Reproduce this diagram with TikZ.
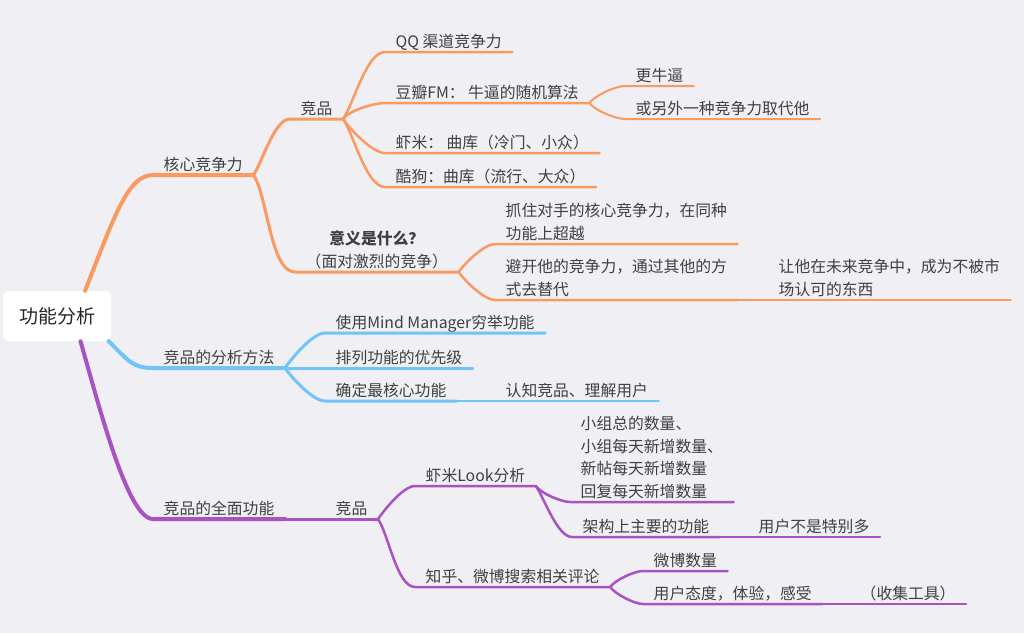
\documentclass[tikz,border=0pt]{standalone}
\usepackage{fontspec}
\setmainfont{Noto Sans CJK SC}
\definecolor{bgcol}{RGB}{239,239,244}
\definecolor{txtcol}{RGB}{64,64,64}
\definecolor{orng}{RGB}{250,154,96}
\definecolor{skyb}{RGB}{112,196,250}
\definecolor{purp}{RGB}{168,82,196}

\begin{document}
\begin{tikzpicture}[x=1pt,y=-1pt,
  topic/.style={anchor=south west, inner xsep=10.5pt, inner ysep=0pt, align=left, text=txtcol,
    font=\fontsize{15.8}{22.5}\selectfont,
    execute at end node={\vrule width 0pt height 0pt depth 4.5pt}},
  rootbox/.style={fill=white, rounded corners=6pt, minimum width=108pt, minimum height=50pt,
    text=black!85, font=\fontsize{19}{22}\selectfont},
  uplink/.style={out=55,in=180,looseness=0.6},
  downlink/.style={out=-55,in=180,looseness=0.6},
  oline/.style={color=orng, line cap=round},
  bline/.style={color=skyb, line cap=round},
  pline/.style={color=purp, line cap=round}]

\useasboundingbox (0,0) rectangle (1024,633);
\fill[bgcol] (0,0) rectangle (1024,633);

\node[rootbox] (root) at (57,316) {功能分析};

%%%%%%%%%%%%%%%%%%%%%%%%%%%%%%%%%%%%%%%%%%%%
\node[topic] (hexin) at (153,175) {核心竞争力};
\node[topic] (jp1) at (290,119) {竞品};
\node[topic] (qq) at (385,52) {QQ 渠道竞争力};
\node[topic] (douban) at (385,103) {豆瓣FM： 牛逼的随机算法};
\node[topic] (niubi) at (625,86) {更牛逼};
\node[topic] (qudai) at (625,119) {或另外一种竞争力取代他};
\node[topic] (xiami) at (385,153) {虾米： 曲库（冷门、小众）};
\node[topic] (kugou) at (385,187) {酷狗：曲库（流行、大众）};
\node[topic, align=center] (yiyi) at (295,272) {\textbf{意义是什么？}\\（面对激烈的竞争）};
\node[topic] (zhua) at (495,244) {抓住对手的核心竞争力，在同种\\功能上超越};
\node[topic] (bikai) at (495,300) {避开他的竞争力，通过其他的方\\式去替代};
\node[topic] (rang) at (768,300) {让他在未来竞争中，成为不被市\\场认可的东西};

\draw[oline, line width=4pt] (root.42) .. controls +(30,-76) and +(-25,0) .. (hexin.south west) -- (hexin.south east);
\draw[oline, line width=3pt] (hexin.south east) to[uplink] (jp1.south west) -- (jp1.south east);
\draw[oline, line width=3pt] (hexin.south east) to[downlink] (yiyi.south west) -- (yiyi.south east);
\draw[oline, line width=2.5pt] (jp1.south east) to[uplink] (qq.south west) -- (qq.south east);
\draw[oline, line width=2.5pt] (jp1.south east) to[uplink] (douban.south west) -- (douban.south east);
\draw[oline, line width=2.5pt] (jp1.south east) to[downlink] (xiami.south west) -- (xiami.south east);
\draw[oline, line width=2.5pt] (jp1.south east) to[downlink] (kugou.south west) -- (kugou.south east);
\draw[oline, line width=2pt] (douban.south east) to[uplink] (niubi.south west) -- (niubi.south east);
\draw[oline, line width=2pt] (douban.south east) to[downlink] (qudai.south west) -- (qudai.south east);
\draw[oline, line width=2.5pt] (yiyi.south east) to[uplink] (zhua.south west) -- (zhua.south east);
\draw[oline, line width=2.5pt] (yiyi.south east) to[downlink] (bikai.south west) -- (bikai.south east);
\draw[oline, line width=2pt] (bikai.south east) -- (rang.south west) -- (rang.south east);

%%%%%%%%%%%%%%%%%%%%%%%%%%%%%%%%%%%%%%%%%%%%
\node[topic] (fangfa) at (153,368) {竞品的分析方法};
\node[topic] (mind) at (325,333) {使用Mind Manager穷举功能};
\node[topic] (pailie) at (325,368) {排列功能的优先级};
\node[topic] (queding) at (325,401) {确定最核心功能};
\node[topic] (renzhi) at (495,401) {认知竞品、理解用户};

\draw[bline, line width=4pt] (root.-26) .. controls +(20,20) and +(-20,0) .. (fangfa.south west) -- (fangfa.south east);
\draw[bline, line width=3pt] (fangfa.south east) to[uplink] (mind.south west) -- (mind.south east);
\draw[bline, line width=3pt] (fangfa.south east) -- (pailie.south west) -- (pailie.south east);
\draw[bline, line width=3pt] (fangfa.south east) to[downlink] (queding.south west) -- (queding.south east);
\draw[bline, line width=2.5pt] (queding.south east) -- (renzhi.south west) -- (renzhi.south east);

%%%%%%%%%%%%%%%%%%%%%%%%%%%%%%%%%%%%%%%%%%%%
\node[topic] (quanmian) at (153,519) {竞品的全面功能};
\node[topic] (jp2) at (325,519) {竞品};
\node[topic] (look) at (415,486) {虾米Look分析};
\node[topic] (shuliang) at (570,502) {小组总的数量、\\小组每天新增数量、\\新帖每天新增数量\\回复每天新增数量};
\node[topic] (jiagou) at (572,537) {架构上主要的功能};
\node[topic] (duo) at (748,537) {用户不是特别多};
\node[topic] (zhihu) at (415,587) {知乎、微博搜索相关评论};
\node[topic] (weibo) at (643,571) {微博数量};
\node[topic] (taidu) at (643,604) {用户态度，体验，感受};
\node[topic] (shouji) at (850,604) {（收集工具）};

\draw[pline, line width=4pt] (root.-47) .. controls +(20,70) and +(-25,0) .. (quanmian.south west) -- (quanmian.south east);
\draw[pline, line width=3pt] (quanmian.south east) -- (jp2.south west) -- (jp2.south east);
\draw[pline, line width=2.5pt] (jp2.south east) to[uplink] (look.south west) -- (look.south east);
\draw[pline, line width=2.5pt] (jp2.south east) to[downlink] (zhihu.south west) -- (zhihu.south east);
\draw[pline, line width=2.5pt] (look.south east) to[downlink] (shuliang.south west) -- (shuliang.south east);
\draw[pline, line width=2.5pt] (look.south east) to[downlink] (jiagou.south west) -- (jiagou.south east);
\draw[pline, line width=2pt] (jiagou.south east) -- (duo.south west) -- (duo.south east);
\draw[pline, line width=2.5pt] (zhihu.south east) to[uplink] (weibo.south west) -- (weibo.south east);
\draw[pline, line width=2.5pt] (zhihu.south east) to[downlink] (taidu.south west) -- (taidu.south east);
\draw[pline, line width=2pt] (taidu.south east) -- (shouji.south west) -- (shouji.south east);

\end{tikzpicture}
\end{document}
